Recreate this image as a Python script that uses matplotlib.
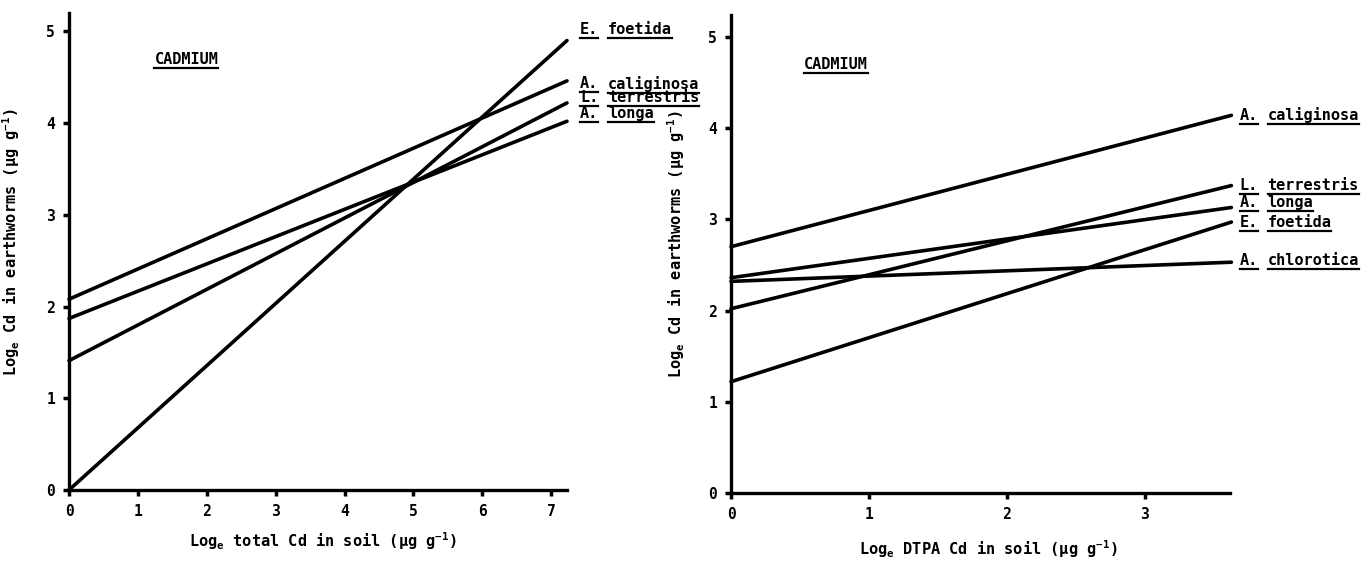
import matplotlib
matplotlib.use("Agg")
import matplotlib.pyplot as plt
from matplotlib.lines import Line2D

plt.rcParams['font.family'] = ['DejaVu Sans Mono']
plt.rcParams['font.weight'] = 'bold'
plt.rcParams['mathtext.default'] = 'regular'

# ---------------- data ----------------
# Left panel: log_e total Cd in soil
left_x = [0.0, 7.23]
left_species = ["E. foetida", "A. caliginosa", "L. terrestris", "A. longa"]
left_start = [0.0, 2.08, 1.41, 1.87]
left_end = [4.90, 4.46, 4.22, 4.02]
left_label_y = [5.02, 4.43, 4.28, 4.10]

# Right panel: log_e DTPA Cd in soil
right_x = [0.0, 3.63]
right_species = ["A. caliginosa", "L. terrestris", "A. longa", "E. foetida", "A. chlorotica"]
right_start = [2.70, 2.02, 2.36, 1.22, 2.32]
right_end = [4.14, 3.37, 3.13, 2.97, 2.53]
right_label_y = [4.14, 3.37, 3.18, 2.97, 2.55]

left_xticks = [0, 1, 2, 3, 4, 5, 6, 7]
right_xticks = [0, 1, 2, 3]
yticks = [0, 1, 2, 3, 4, 5]

FS = 11
W, H = 1366, 563
fig = plt.figure(figsize=(W / 100, H / 100), dpi=100)
axL = fig.add_axes([69 / W, 1 - 490 / H, 498 / W, 477 / H])
axR = fig.add_axes([731 / W, 1 - 493 / H, 499 / W, 478 / H])

underline_texts = []


def style(ax, xlim, ylim, xticks):
    ax.set_xlim(*xlim)
    ax.set_ylim(*ylim)
    for s in ["top", "right"]:
        ax.spines[s].set_visible(False)
    for s in ["left", "bottom"]:
        ax.spines[s].set_linewidth(2.4)
        ax.spines[s].set_color("black")
    ax.set_xticks(xticks)
    ax.set_yticks(yticks)
    ax.tick_params(axis="both", direction="out", length=4, width=2.5,
                   labelsize=10.5, pad=6)
    for t in ax.get_xticklabels() + ax.get_yticklabels():
        t.set_fontweight("bold")


def add_label(ax, x, y, name):
    abbr, sp = name.split(" ", 1)
    t1 = ax.text(x, y, abbr, fontsize=FS, fontweight="bold", va="center",
                 ha="left", clip_on=False)
    t2 = ax.annotate(sp, xy=(1, 0.5), xycoords=t1, xytext=(7, 0),
                     textcoords="offset points", va="center", ha="left",
                     fontsize=FS, fontweight="bold", annotation_clip=False)
    underline_texts.extend([t1, t2])


# Left panel
style(axL, (0, 7.23), (0, 5.2), left_xticks)
for name, y0, y1, ly in zip(left_species, left_start, left_end, left_label_y):
    axL.plot(left_x, [y0, y1], color="black", lw=2.6, solid_capstyle="round",
             clip_on=False)
    add_label(axL, 7.42, ly, name)
tc = axL.text(1.24, 4.69, "CADMIUM", fontsize=FS, fontweight="bold",
              va="center", ha="left")
underline_texts.append(tc)
axL.set_xlabel("Log$_e$ total Cd in soil (\u00b5g g$^{-1}$)", fontsize=FS,
               fontweight="bold")
axL.xaxis.set_label_coords(0.51, -0.085)
axL.set_ylabel("Log$_e$ Cd in earthworms (\u00b5g g$^{-1}$)", fontsize=FS,
               fontweight="bold")
axL.yaxis.set_label_coords(-0.094, 0.52)

# Right panel
style(axR, (0, 3.62), (0, 5.24), right_xticks)
for name, y0, y1, ly in zip(right_species, right_start, right_end, right_label_y):
    axR.plot(right_x, [y0, y1], color="black", lw=2.6, solid_capstyle="round",
             clip_on=False)
    add_label(axR, 3.69, ly, name)
tc2 = axR.text(0.53, 4.70, "CADMIUM", fontsize=FS, fontweight="bold",
               va="center", ha="left")
underline_texts.append(tc2)
axR.set_xlabel("Log$_e$ DTPA Cd in soil (\u00b5g g$^{-1}$)", fontsize=FS,
               fontweight="bold")
axR.xaxis.set_label_coords(0.515, -0.095)
axR.set_ylabel("Log$_e$ Cd in earthworms (\u00b5g g$^{-1}$)", fontsize=FS,
               fontweight="bold")
axR.yaxis.set_label_coords(-0.088, 0.52)

# underline labels
fig.canvas.draw()
renderer = fig.canvas.get_renderer()
for t in underline_texts:
    bb = t.get_window_extent(renderer)
    yb = bb.y0 - 1
    fig.add_artist(Line2D([bb.x0 / W, bb.x1 / W], [yb / H, yb / H],
                          transform=fig.transFigure, color="black", lw=1.6))

fig.savefig("out.png", dpi=100)
